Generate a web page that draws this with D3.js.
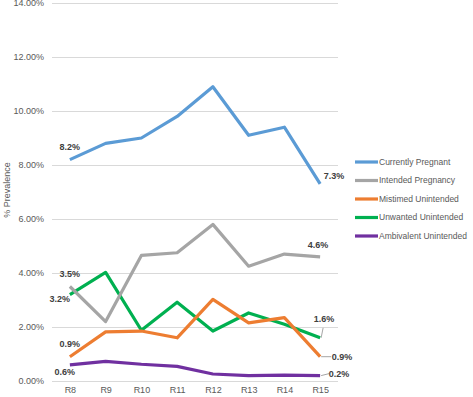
<!DOCTYPE html>
<html>
<head>
<meta charset="utf-8">
<script src="https://cdn.jsdelivr.net/npm/d3@7"></script>
<style>
body { margin: 0; background: #fff; }
text { font-family: "Liberation Sans", Arial, sans-serif; }
</style>
</head>
<body>
<div class="chart"></div>
<script>
// Data
var rounds = ["R8", "R9", "R10", "R11", "R12", "R13", "R14", "R15"];
var currentlyPregnant = [8.2, 8.8, 9.0, 9.8, 10.9, 9.1, 9.4, 7.3];
var intendedPregnancy = [3.5, 2.2, 4.65, 4.75, 5.8, 4.25, 4.7, 4.6];
var mistimedUnintended = [0.9, 1.82, 1.85, 1.6, 3.02, 2.15, 2.35, 0.9];
var unwantedUnintended = [3.2, 4.02, 1.88, 2.92, 1.85, 2.52, 2.1, 1.6];
var ambivalentUnintended = [0.6, 0.73, 0.62, 0.54, 0.26, 0.2, 0.22, 0.2];
var yTicks = [0, 2, 4, 6, 8, 10, 12, 14];

var series = [
  { name: "Currently Pregnant", values: currentlyPregnant, color: "#5B9BD5" },
  { name: "Intended Pregnancy", values: intendedPregnancy, color: "#A5A5A5" },
  { name: "Mistimed Unintended", values: mistimedUnintended, color: "#ED7D31" },
  { name: "Unwanted Unintended", values: unwantedUnintended, color: "#00B050" },
  { name: "Ambivalent Unintended", values: ambivalentUnintended, color: "#7030A0" }
];

// end-point labels: series index, round index, text, offset from point, leader end
var labels = [
  { s: 0, i: 0, text: "8.2%", dx: 0, dy: -13 },
  { s: 0, i: 7, text: "7.3%", dx: 14, dy: -8 },
  { s: 1, i: 0, text: "3.5%", dx: 0, dy: -13 },
  { s: 1, i: 7, text: "4.6%", dx: -2, dy: -12 },
  { s: 3, i: 0, text: "3.2%", dx: -10, dy: 4 },
  { s: 3, i: 7, text: "1.6%", dx: 4, dy: -19, lx: 3, ly: -10 },
  { s: 2, i: 0, text: "0.9%", dx: 0, dy: -13 },
  { s: 2, i: 7, text: "0.9%", dx: 22, dy: 0, lx: 11, ly: 0 },
  { s: 4, i: 0, text: "0.6%", dx: -5, dy: 7 },
  { s: 4, i: 7, text: "0.2%", dx: 19, dy: -2, lx: 9, ly: -2 }
];

var svg_w = 473;
var svg_h = 397;
var svg = d3.select("div.chart").append("svg")
  .attr("width", svg_w)
  .attr("height", svg_h);

var x = d3.scalePoint()
  .domain(rounds)
  .range([52, 338])
  .padding(0.5);

var y = d3.scaleLinear()
  .domain([0, 14])
  .range([381, 3]);

// gridlines
svg.append("g")
  .selectAll("line")
  .data(yTicks)
  .enter()
  .append("line")
  .attr("x1", 52)
  .attr("x2", 338)
  .attr("y1", function(d) { return y(d) + 0.5; })
  .attr("y2", function(d) { return y(d) + 0.5; })
  .attr("stroke", "#d9d9d9")
  .attr("stroke-width", 1);

// y axis labels
var yAxis = d3.axisLeft(y).tickValues(yTicks).tickSize(0).tickPadding(6)
  .tickFormat(function(d) { return d.toFixed(2) + "%"; });
var yg = svg.append("g")
  .attr("transform", "translate(50,0)")
  .call(yAxis);
yg.select(".domain").remove();
yg.selectAll("text")
  .attr("fill", "#595959")
  .style("font-size", "9px");

// x axis labels
var xAxis = d3.axisBottom(x).tickSize(0).tickPadding(6);
var xg = svg.append("g")
  .attr("transform", "translate(0,381)")
  .call(xAxis);
xg.select(".domain").remove();
xg.selectAll("text")
  .attr("fill", "#595959")
  .style("font-size", "9px");

// y title
svg.append("text")
  .attr("transform", "translate(10,190) rotate(-90)")
  .attr("text-anchor", "middle")
  .attr("fill", "#595959")
  .style("font-size", "9px")
  .text("% Prevalence");

// lines
var line = d3.line()
  .x(function(d, i) { return x(rounds[i]); })
  .y(function(d) { return y(d); });

svg.append("g")
  .selectAll("path")
  .data(series.slice().reverse())
  .enter()
  .append("path")
  .attr("d", function(d) { return line(d.values); })
  .attr("fill", "none")
  .attr("stroke", function(d) { return d.color; })
  .attr("stroke-width", 3.2)
  .attr("stroke-linejoin", "round");

// data labels
var lg = svg.append("g");
labels.forEach(function(l) {
  var px = x(rounds[l.i]);
  var py = y(series[l.s].values[l.i]);
  if (l.lx !== undefined) {
    lg.append("line")
      .attr("x1", px + 1).attr("y1", py)
      .attr("x2", px + l.lx).attr("y2", py + l.ly)
      .attr("stroke", "#a6a6a6")
      .attr("stroke-width", 1);
  }
  lg.append("text")
    .attr("x", px + l.dx)
    .attr("y", py + l.dy)
    .attr("dy", "0.35em")
    .attr("text-anchor", "middle")
    .attr("fill", "#404040")
    .style("font-size", "9px")
    .style("font-weight", "bold")
    .text(l.text);
});

// legend
var legend = svg.append("g")
  .selectAll("g")
  .data(series)
  .enter()
  .append("g")
  .attr("transform", function(d, i) { return "translate(355," + (162 + i * 18.5) + ")"; });

legend.append("line")
  .attr("x1", 0).attr("x2", 23)
  .attr("stroke", function(d) { return d.color; })
  .attr("stroke-width", 3.2);

legend.append("text")
  .attr("x", 24)
  .attr("dy", "0.35em")
  .attr("fill", "#595959")
  .style("font-size", "8.5px")
  .text(function(d) { return d.name; });
</script>
</body>
</html>
